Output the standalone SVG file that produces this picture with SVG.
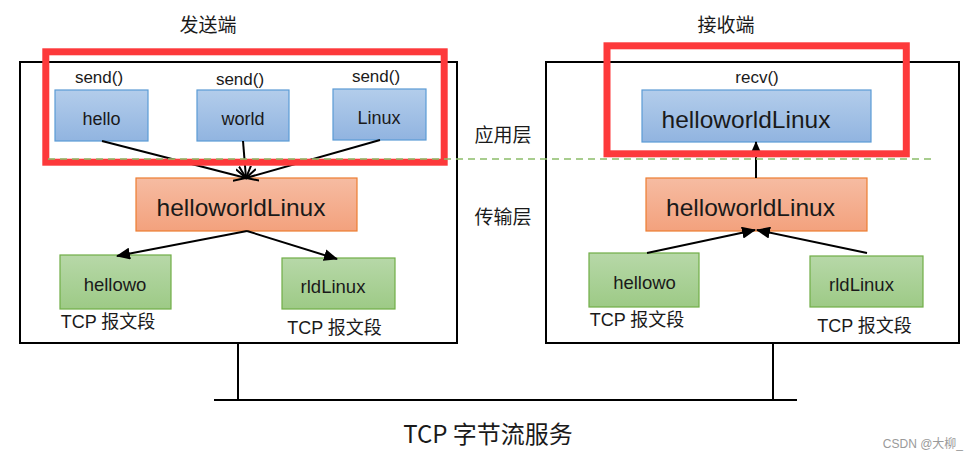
<svg xmlns="http://www.w3.org/2000/svg" width="978" height="454" viewBox="0 0 978 454">
<defs>
<linearGradient id="gb" x1="0" y1="0" x2="0" y2="1"><stop offset="0" stop-color="#b3cdeb"/><stop offset="1" stop-color="#91b4e0"/></linearGradient>
<linearGradient id="go" x1="0" y1="0" x2="0" y2="1"><stop offset="0" stop-color="#f6bca2"/><stop offset="1" stop-color="#f3a17d"/></linearGradient>
<linearGradient id="gg" x1="0" y1="0" x2="0" y2="1"><stop offset="0" stop-color="#b7d8a8"/><stop offset="1" stop-color="#9dca86"/></linearGradient>
<marker id="open" markerUnits="userSpaceOnUse" markerWidth="14" markerHeight="14" refX="12" refY="7" orient="auto" viewBox="0 0 14 14"><path d="M0,1 L12,7 L0,13" fill="none" stroke="#000" stroke-width="2"/></marker>
<marker id="fill" markerUnits="userSpaceOnUse" markerWidth="14" markerHeight="12" refX="13" refY="6" orient="auto" viewBox="0 0 14 12"><path d="M0,0 L14,6 L0,12 z" fill="#000"/></marker>
</defs>
<style>
.t{font-family:"Liberation Sans","Noto Sans CJK SC",sans-serif;fill:#1a1a1a;text-anchor:middle}
.c{font-family:"Noto Sans CJK SC","Liberation Sans",sans-serif;fill:#1a1a1a;text-anchor:middle}
.w{font-family:"Liberation Sans","Noto Sans CJK SC",sans-serif;fill:#9a9a9a;text-anchor:end}
.frame{fill:none;stroke:#000;stroke-width:2}
.blue{fill:url(#gb);stroke:#5b9bd5;stroke-width:1.2}
.orange{fill:url(#go);stroke:#ed7d31;stroke-width:1.2}
.green{fill:url(#gg);stroke:#70ad47;stroke-width:1.2}
.red{fill:none;stroke:#fd393b;stroke-width:7}
.ln{stroke:#000;stroke-width:2;fill:none}
</style>
<rect width="978" height="454" fill="#fff"/>

<g id="sender-frame"><rect class="frame" x="20" y="62" width="437" height="281"/></g>
<g id="receiver-frame"><rect class="frame" x="546" y="62" width="413" height="281"/></g>

<text class="c" x="208" y="32" font-size="19">发送端</text>
<text class="c" x="726" y="32" font-size="19">接收端</text>
<text class="c" x="503" y="142" font-size="19">应用层</text>
<text class="c" x="503" y="224" font-size="19">传输层</text>

<g id="s-hello"><text class="t" x="99" y="83" font-size="17">send()</text><rect class="blue" x="55" y="90" width="93" height="51"/><text class="t" x="101.5" y="125" font-size="18">hello</text></g>
<g id="s-world"><text class="t" x="240" y="85" font-size="17">send()</text><rect class="blue" x="197" y="90" width="92" height="51"/><text class="t" x="243" y="125" font-size="18">world</text></g>
<g id="s-linux"><text class="t" x="376" y="82" font-size="17">send()</text><rect class="blue" x="333" y="89" width="93" height="51"/><text class="t" x="379" y="124" font-size="18">Linux</text></g>
<g id="s-stream"><rect class="orange" x="136" y="178" width="221" height="53"/><text class="t" x="241" y="216" font-size="24.5">helloworldLinux</text></g>
<g id="s-seg1"><rect class="green" x="60" y="255" width="111" height="54"/><text class="t" x="115" y="291" font-size="18.5">hellowo</text><text class="t" x="108" y="328" font-size="18">TCP 报文段</text></g>
<g id="s-seg2"><rect class="green" x="282" y="258" width="113" height="51"/><text class="t" x="333" y="293" font-size="18.5">rldLinux</text><text class="t" x="334.5" y="334" font-size="18">TCP 报文段</text></g>

<g id="r-app"><text class="t" x="757" y="83" font-size="17">recv()</text><rect class="blue" x="642" y="90" width="229" height="52"/><text class="t" x="746" y="128" font-size="24.5">helloworldLinux</text></g>
<g id="r-stream"><rect class="orange" x="646" y="178" width="221" height="53"/><text class="t" x="750.5" y="216" font-size="24.5">helloworldLinux</text></g>
<g id="r-seg1"><rect class="green" x="589" y="253" width="110" height="54"/><text class="t" x="644.5" y="289" font-size="18.5">hellowo</text><text class="t" x="637" y="326" font-size="18">TCP 报文段</text></g>
<g id="r-seg2"><rect class="green" x="810" y="256" width="113" height="51"/><text class="t" x="861.5" y="291" font-size="18.5">rldLinux</text><text class="t" x="864.5" y="332" font-size="18">TCP 报文段</text></g>

<g id="connectors">
<line class="ln" x1="102" y1="141" x2="246" y2="178" marker-end="url(#open)"/>
<line class="ln" x1="243" y1="141" x2="246" y2="178" marker-end="url(#open)"/>
<line class="ln" x1="380" y1="140" x2="246" y2="178" marker-end="url(#open)"/>
<line class="ln" x1="247" y1="231" x2="117" y2="256" marker-end="url(#fill)"/>
<line class="ln" x1="247" y1="231" x2="337" y2="259" marker-end="url(#fill)"/>
<line class="ln" x1="756" y1="178" x2="756" y2="142" marker-end="url(#fill)"/>
<line class="ln" x1="647" y1="253" x2="755" y2="230" marker-end="url(#fill)"/>
<line class="ln" x1="867" y1="253" x2="757" y2="230" marker-end="url(#fill)"/>
<polyline class="ln" points="238,343 238,400"/>
<polyline class="ln" points="773,343 773,400"/>
<line class="ln" x1="214" y1="400" x2="797" y2="400" stroke-width="2.5"/>
</g>

<g id="highlights">
<rect class="red" x="45.8" y="51.8" width="398.4" height="110.4"/>
<rect class="red" x="607" y="45.8" width="299.3" height="108"/>
</g>
<line x1="48" y1="159" x2="932" y2="159" stroke="#8cbd6a" stroke-width="1.5" stroke-dasharray="7,5"/>

<text class="c" x="488" y="443" font-size="24">TCP 字节流服务</text>
<text class="w" x="963" y="448" font-size="12">CSDN @大柳_</text>
</svg>
